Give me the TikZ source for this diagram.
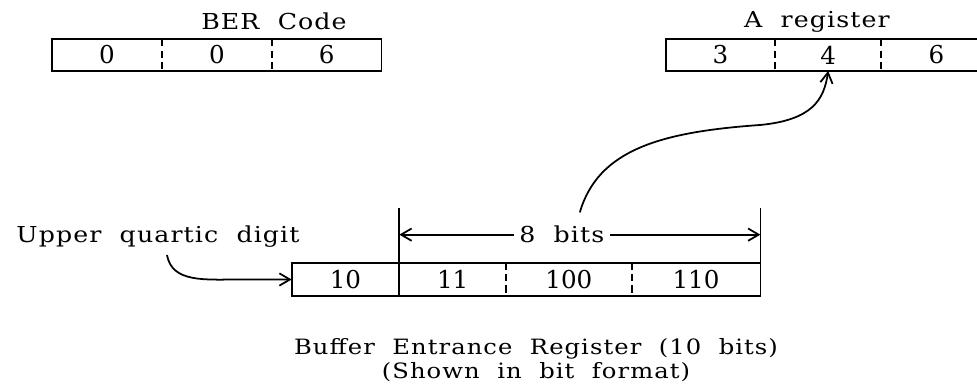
\documentclass[tikz,border=0pt]{standalone}
\usepackage{fontspec}
\setmainfont{DejaVu Serif}[FakeStretch=1.15, LetterSpace=5, WordSpace=2]
\newfontfamily\digitfont{DejaVu Serif}
\usetikzlibrary{arrows.meta,calc,positioning}

\begin{document}
\begin{tikzpicture}[x=0.02cm,y=-0.02cm,>={Straight Barb[length=6pt,width=7pt]},
  font=\fontsize{12.5}{14.5}\selectfont]
\tikzstyle{cell} = [minimum height=0.62cm, inner sep=0pt, font=\digitfont\fontsize{14}{16}\selectfont]
\tikzstyle{bcell} = [cell, minimum height=0.66cm]
\tikzstyle{reg} = [line width=1pt]
\tikzstyle{sep} = [line width=1pt, dash pattern=on 4pt off 2.5pt]
\useasboundingbox (0,0) rectangle (977,391);
\clip (0,0) rectangle (977,391);

\node[cell, minimum width=2.19cm] (b1) at (107,55) {0};
\node[cell, minimum width=2.18cm, right=0pt of b1] (b2) {0};
\node[cell, minimum width=2.18cm, right=0pt of b2] (b3) {6};
\draw[reg] (b1.north west) rectangle (b3.south east);
\draw[sep] (b1.north east) -- (b1.south east);
\draw[sep] (b2.north east) -- (b2.south east);
\node (ber) at (274,21) {BER Code};

\node[cell, minimum width=2.18cm] (a1) at (720.5,55) {3};
\node[cell, minimum width=2.10cm, right=0pt of a1] (a2) {4};
\node[cell, minimum width=2.20cm, right=0pt of a2] (a3) {6};
\draw[reg] (a1.north west) rectangle (a3.south east);
\draw[sep] (a1.north east) -- (a1.south east);
\draw[sep] (a2.north east) -- (a2.south east);
\node (areg) at (817,22) {A register};

\node[bcell, minimum width=2.14cm] (r1) at (345.5,279.5) {10};
\node[bcell, minimum width=2.12cm, right=0pt of r1] (r2) {11};
\node[bcell, minimum width=2.50cm, right=0pt of r2] (r3) {100};
\node[bcell, minimum width=2.56cm, right=0pt of r3] (r4) {110};
\draw[reg] (r1.north west) rectangle (r4.south east);
\draw[reg] (r1.north east) -- (r1.south east);
\draw[sep] (r2.north east) -- (r2.south east);
\draw[sep] (r3.north east) -- (r3.south east);

\coordinate (t1) at ($(r2.north west)+(0,-55)$);
\coordinate (t2) at ($(r4.north east)+(0,-55)$);
\draw[reg] (r2.north west) -- (t1);
\draw[reg] (r4.north east) -- (t2);
\draw[reg,<->] ($(t1)+(0,27)$) -- node[pos=0.45, fill=white, inner xsep=3pt] (bits) {8 bits} ($(t2)+(0,27)$);
\draw[reg,->] ([shift={(18,-7)}]bits.north) .. controls (598,150) and (660,132) .. (760,125)
  .. controls (812,120) and (824,100) .. (a2.south);

\node (upper) at (158,237) {Upper quartic digit};
\draw[reg,->] ([shift={(9,1)}]upper.south) .. controls (172,283) and (205,279.5) .. (240,279.5) -- (r1.west);

\node[align=center, font=\fontsize{12}{14}\selectfont] (cap) at (536,360) {Buffer Entrance Register (10 bits)\\(Shown in bit format)};
\end{tikzpicture}
\end{document}
